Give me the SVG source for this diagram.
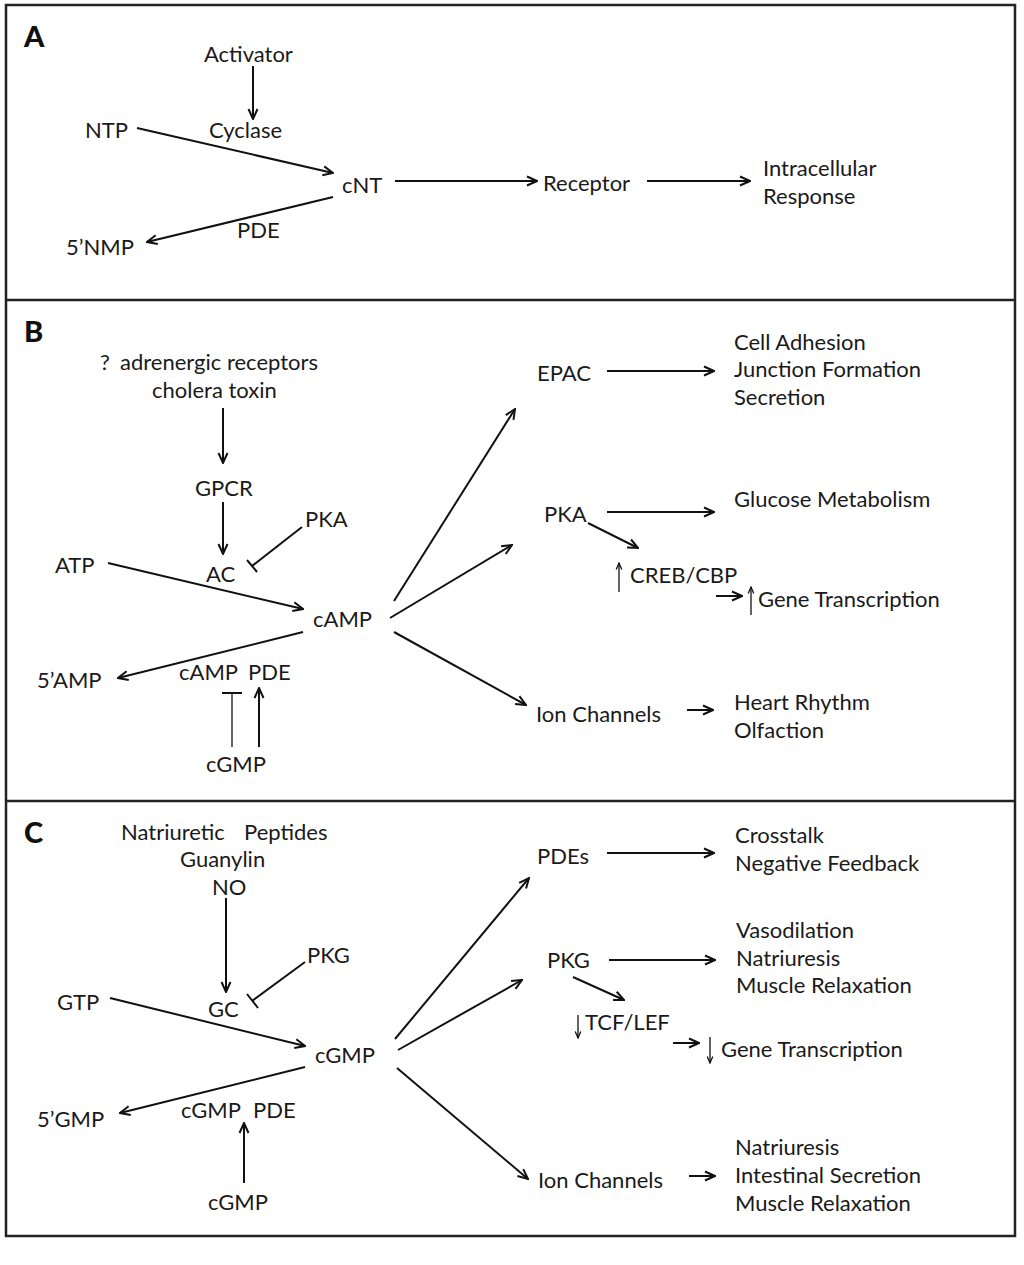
<svg xmlns="http://www.w3.org/2000/svg" width="1024" height="1265" viewBox="0 0 1024 1265">
<style>
text{font-family:Lato,"Liberation Sans",sans-serif;font-size:22px;fill:#1a1a1a}
.lbl{font-weight:900;font-size:29px;fill:#111}
.ln{stroke:#111;stroke-width:2;fill:none}
.th{stroke:#111;stroke-width:1.3;fill:none}
.frame{stroke:#222;stroke-width:2.5;fill:none}
</style>
<defs>
<marker id="ah" viewBox="0 0 12 12" refX="11" refY="6" markerWidth="12" markerHeight="12" markerUnits="userSpaceOnUse" orient="auto"><path d="M1,1.5 L11,6 L1,10.5" fill="none" stroke="#111" stroke-width="2"/></marker>
<marker id="sm" viewBox="0 0 10 10" refX="9" refY="5" markerWidth="8" markerHeight="8" markerUnits="userSpaceOnUse" orient="auto"><path d="M1,1.5 L9,5 L1,8.5" fill="none" stroke="#111" stroke-width="1.6"/></marker>
</defs>
<rect width="1024" height="1265" fill="#fff"/>
<g id="frame">
<rect class="frame" x="6" y="5" width="1009" height="1231"/>
<line class="frame" x1="6" y1="300" x2="1015" y2="300"/>
<line class="frame" x1="6" y1="801" x2="1015" y2="801"/>
</g>
<g id="connectors">
<!-- A -->
<line class="ln" x1="253" y1="66" x2="253" y2="119" marker-end="url(#ah)"/>
<line class="ln" x1="137" y1="128" x2="333" y2="173" marker-end="url(#ah)"/>
<line class="ln" x1="333" y1="197" x2="147" y2="242" marker-end="url(#ah)"/>
<line class="ln" x1="395" y1="181" x2="537" y2="181" marker-end="url(#ah)"/>
<line class="ln" x1="647" y1="181" x2="750" y2="181" marker-end="url(#ah)"/>
<!-- B -->
<line class="ln" x1="223" y1="408" x2="223" y2="463" marker-end="url(#ah)"/>
<line class="ln" x1="223" y1="502" x2="223" y2="554" marker-end="url(#ah)"/>
<line class="ln" x1="302" y1="527" x2="252" y2="566"/>
<line class="ln" x1="247" y1="560" x2="257" y2="572"/>
<line class="ln" x1="108" y1="563" x2="303" y2="609" marker-end="url(#ah)"/>
<line class="ln" x1="303" y1="632" x2="118" y2="678" marker-end="url(#ah)"/>
<line class="th" x1="232" y1="747" x2="232" y2="693"/>
<line class="ln" x1="222" y1="693" x2="242" y2="693"/>
<line class="ln" x1="259" y1="747" x2="259" y2="688" marker-end="url(#ah)"/>
<line class="ln" x1="394" y1="601" x2="515" y2="409" marker-end="url(#ah)"/>
<line class="ln" x1="390" y1="618" x2="512" y2="545" marker-end="url(#ah)"/>
<line class="ln" x1="394" y1="632" x2="526" y2="705" marker-end="url(#ah)"/>
<line class="ln" x1="607" y1="371" x2="714" y2="371" marker-end="url(#ah)"/>
<line class="ln" x1="607" y1="512" x2="714" y2="512" marker-end="url(#ah)"/>
<line class="ln" x1="588" y1="523" x2="638" y2="548" marker-end="url(#ah)"/>
<line class="th" x1="619" y1="592" x2="619" y2="563" marker-end="url(#sm)"/>
<line class="ln" x1="716" y1="596" x2="742" y2="596" marker-end="url(#ah)"/>
<line class="th" x1="751" y1="615" x2="751" y2="587" marker-end="url(#sm)"/>
<line class="ln" x1="687" y1="710" x2="713" y2="710" marker-end="url(#ah)"/>
<!-- C -->
<line class="ln" x1="226" y1="898" x2="226" y2="992" marker-end="url(#ah)"/>
<line class="ln" x1="305" y1="962" x2="252" y2="1001"/>
<line class="ln" x1="247" y1="994" x2="258" y2="1008"/>
<line class="ln" x1="110" y1="998" x2="305" y2="1046" marker-end="url(#ah)"/>
<line class="ln" x1="305" y1="1067" x2="120" y2="1113" marker-end="url(#ah)"/>
<line class="ln" x1="244" y1="1183" x2="244" y2="1123" marker-end="url(#ah)"/>
<line class="ln" x1="395" y1="1039" x2="529" y2="878" marker-end="url(#ah)"/>
<line class="ln" x1="398" y1="1050" x2="522" y2="980" marker-end="url(#ah)"/>
<line class="ln" x1="397" y1="1068" x2="528" y2="1179" marker-end="url(#ah)"/>
<line class="ln" x1="607" y1="853" x2="714" y2="853" marker-end="url(#ah)"/>
<line class="ln" x1="609" y1="960" x2="715" y2="960" marker-end="url(#ah)"/>
<line class="ln" x1="573" y1="977" x2="624" y2="1000" marker-end="url(#ah)"/>
<line class="th" x1="578" y1="1015" x2="578" y2="1038" marker-end="url(#sm)"/>
<line class="ln" x1="673" y1="1043" x2="699" y2="1043" marker-end="url(#ah)"/>
<line class="th" x1="710" y1="1037" x2="710" y2="1063" marker-end="url(#sm)"/>
<line class="ln" x1="689" y1="1176" x2="715" y2="1176" marker-end="url(#ah)"/>
</g>
<g id="panelA">
<text class="lbl" x="24" y="47">A</text>
<g id="activator"><text x="204" y="62">Activator</text></g>
<g id="cyclase"><text x="209" y="138">Cyclase</text></g>
<g id="ntp"><text x="85" y="138">NTP</text></g>
<g id="cnt"><text x="342" y="193">cNT</text></g>
<g id="pdeA"><text x="237" y="238">PDE</text></g>
<g id="nmp"><text x="66" y="255">5’NMP</text></g>
<g id="receptor"><text x="543" y="191">Receptor</text></g>
<g id="response"><text x="763" y="176">Intracellular</text><text x="763" y="204">Response</text></g>
</g>
<g id="panelB">
<text class="lbl" x="24" y="342">B</text>
<g id="activatorsB"><text x="100" y="370">?<tspan x="120">adrenergic receptors</tspan></text><text x="152" y="398">cholera toxin</text></g>
<g id="gpcr"><text x="195" y="496">GPCR</text></g>
<g id="pkaL"><text x="305" y="527">PKA</text></g>
<g id="atp"><text x="55" y="573">ATP</text></g>
<g id="ac"><text x="206" y="582">AC</text></g>
<g id="camp"><text x="313" y="627">cAMP</text></g>
<g id="amp"><text x="37" y="688">5’AMP</text></g>
<g id="camppde"><text x="179" y="680">cAMP</text><text x="248" y="680">PDE</text></g>
<g id="cgmpB"><text x="206" y="772">cGMP</text></g>
<g id="epac"><text x="537" y="381">EPAC</text></g>
<g id="epacOut"><text x="734" y="350">Cell Adhesion</text><text x="734" y="377">Junction Formation</text><text x="734" y="405">Secretion</text></g>
<g id="pkaR"><text x="544" y="522">PKA</text></g>
<g id="glucose"><text x="734" y="507">Glucose Metabolism</text></g>
<g id="creb"><text x="630" y="583">CREB/CBP</text></g>
<g id="geneB"><text x="758" y="607">Gene Transcription</text></g>
<g id="ionB"><text x="536" y="722">Ion Channels</text></g>
<g id="ionBOut"><text x="734" y="710">Heart Rhythm</text><text x="734" y="738">Olfaction</text></g>
</g>
<g id="panelC">
<text class="lbl" x="24" y="843">C</text>
<g id="activatorsC"><text x="121" y="840">Natriuretic<tspan x="244">Peptides</tspan></text><text x="180" y="867">Guanylin</text><text x="212" y="895">NO</text></g>
<g id="pkgL"><text x="307" y="963">PKG</text></g>
<g id="gtp"><text x="57" y="1010">GTP</text></g>
<g id="gc"><text x="208" y="1017">GC</text></g>
<g id="cgmp"><text x="315" y="1063">cGMP</text></g>
<g id="gmp"><text x="37" y="1127">5’GMP</text></g>
<g id="cgmppde"><text x="181" y="1118">cGMP</text><text x="253" y="1118">PDE</text></g>
<g id="cgmpC"><text x="208" y="1210">cGMP</text></g>
<g id="pdes"><text x="537" y="864">PDEs</text></g>
<g id="pdesOut"><text x="735" y="843">Crosstalk</text><text x="735" y="871">Negative Feedback</text></g>
<g id="pkgR"><text x="547" y="968">PKG</text></g>
<g id="pkgOut"><text x="736" y="938">Vasodilation</text><text x="736" y="966">Natriuresis</text><text x="736" y="993">Muscle Relaxation</text></g>
<g id="tcf"><text x="585" y="1030">TCF/LEF</text></g>
<g id="geneC"><text x="721" y="1057">Gene Transcription</text></g>
<g id="ionC"><text x="538" y="1188">Ion Channels</text></g>
<g id="ionCOut"><text x="735" y="1155">Natriuresis</text><text x="735" y="1183">Intestinal Secretion</text><text x="735" y="1211">Muscle Relaxation</text></g>
</g>
</svg>
